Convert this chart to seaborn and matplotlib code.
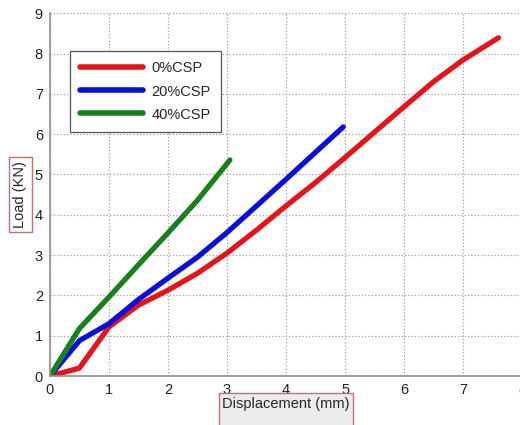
import pandas as pd
import matplotlib.pyplot as plt
import seaborn as sns

# Load-displacement curves
disp_0 = [0, 0.5, 1.0, 1.5, 2.0, 2.5, 3.0, 3.5, 4.0, 4.5, 5.0, 5.5, 6.0, 6.5, 7.0, 7.6]
load_0 = [0, 0.2, 1.22, 1.76, 2.13, 2.55, 3.05, 3.62, 4.22, 4.8, 5.42, 6.05, 6.68, 7.3, 7.84, 8.39]

disp_20 = [0, 0.5, 1.0, 1.5, 2.0, 2.5, 3.0, 3.5, 4.0, 4.5, 4.97]
load_20 = [0, 0.88, 1.3, 1.9, 2.43, 2.95, 3.56, 4.22, 4.88, 5.55, 6.18]

disp_40 = [0, 0.5, 1.0, 1.5, 2.0, 2.5, 3.05]
load_40 = [0, 1.18, 1.96, 2.76, 3.55, 4.36, 5.36]

labels = ['0%CSP', '20%CSP', '40%CSP']
colors = {'0%CSP': '#e3141a', '20%CSP': '#0a10d8', '40%CSP': '#1a7f1e'}

frames = []
for lab, xs, ys in zip(labels, [disp_0, disp_20, disp_40], [load_0, load_20, load_40]):
    frames.append(pd.DataFrame({'disp': xs, 'load': ys, 'label': lab}))
df = pd.concat(frames, ignore_index=True)

sns.set_style('white')
plt.rcParams['font.family'] = ['Liberation Sans', 'DejaVu Sans']

fig = plt.figure(figsize=(5.2, 4.25), dpi=100)
ax = fig.add_axes([0.096, 0.115, 0.908, 0.854])

sns.lineplot(data=df, x='disp', y='load', hue='label', palette=colors,
             estimator=None, sort=False, linewidth=3.8, ax=ax)

ax.set_xlim(0, 8)
ax.set_ylim(0, 9)
ax.set_xticks(range(0, 9))
ax.set_yticks(range(0, 10))
ax.grid(True, linestyle=':', color='#a0a0a0', linewidth=0.9)
ax.tick_params(direction='in', length=4, width=0.8, color='#888888',
               labelsize=10.5, labelcolor='#222222', pad=5)
for side in ['left', 'bottom']:
    ax.spines[side].set_color('#909090')
    ax.spines[side].set_linewidth(1.2)
for side in ['top', 'right']:
    ax.spines[side].set_visible(False)

ax.set_xlabel('Displacement (mm)\n ', fontsize=10.5, labelpad=0,
              bbox=dict(boxstyle='square,pad=0.25', fc='#ececec', ec='#c07070', lw=1))
ax.set_ylabel('Load (KN)', fontsize=10.5,
              bbox=dict(boxstyle='square,pad=0.3', fc='white', ec='#c07070', lw=1))
ax.yaxis.set_label_coords(-0.048, 0.5)

leg = ax.legend(loc='upper left', bbox_to_anchor=(0.042, 0.895), borderaxespad=0,
                fontsize=10.5, handlelength=4.3, labelspacing=0.62, borderpad=0.7,
                handletextpad=0.6, fancybox=False, framealpha=1, edgecolor='#555555')
leg.get_frame().set_linewidth(0.9)
for line in leg.get_lines():
    line.set_linewidth(4)

fig.savefig('out.png', dpi=100)
